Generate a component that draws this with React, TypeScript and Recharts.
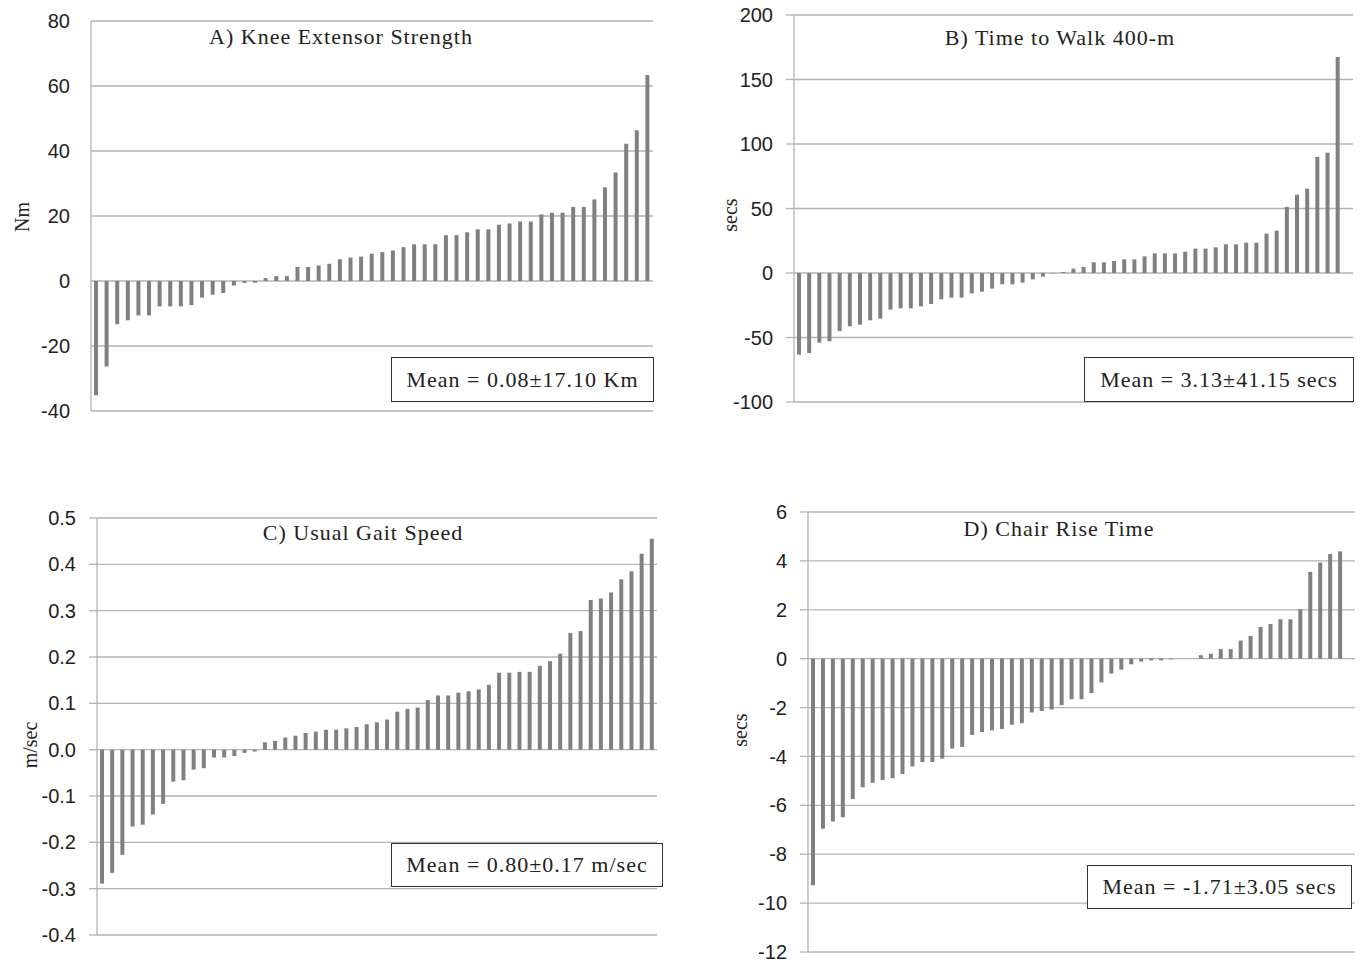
import React from 'react';
import { BarChart, Bar, XAxis, YAxis, CartesianGrid } from 'recharts';

// sorted change scores per subject
const kneeValues = [
  -35.2, -26.3, -13.3, -12.1, -10.6, -10.6, -7.8, -7.8, -7.8, -7.4, -5.1, -4.2, -3.7, -1.4, -0.6, -0.5,
  0.9, 1.5, 1.5, 4.3, 4.3, 4.8, 5.3, 6.7, 7.2, 7.5, 8.4, 8.9, 9.4, 10.4, 11.3, 11.3, 11.3, 14.1, 14.1,
  15.0, 15.9, 15.9, 17.3, 17.7, 18.3, 18.3, 20.5, 21.0, 21.0, 22.8, 22.8, 25.1, 28.8, 33.4, 42.2, 46.4, 63.4,
];
const walkValues = [
  -63.3, -62, -54, -53, -45, -41.3, -40, -36.7, -35.4, -28.4, -27.4, -27.4, -25.8, -24, -20.4, -19.1,
  -19.1, -15.8, -14.5, -12.1, -8.8, -8.8, -7.5, -4.9, -2.8, -0.3, 0.8, 3.4, 4.7, 8.3, 8.3, 9.3, 10.6,
  10.6, 12.9, 15.2, 15.2, 15.2, 16.5, 18.9, 18.9, 19.9, 22.2, 22.2, 23.5, 23.5, 30.5, 32.8, 51.2, 60.7,
  65.4, 90, 93.3, 167.4, null,
];
const gaitValues = [
  -0.289, -0.266, -0.227, -0.166, -0.162, -0.14, -0.117, -0.069, -0.066, -0.043, -0.04, -0.017, -0.017,
  -0.014, -0.007, -0.004, 0.016, 0.019, 0.026, 0.03, 0.036, 0.039, 0.043, 0.043, 0.046, 0.049, 0.055,
  0.059, 0.065, 0.082, 0.088, 0.091, 0.107, 0.117, 0.117, 0.123, 0.126, 0.13, 0.14, 0.166, 0.166, 0.168,
  0.168, 0.181, 0.191, 0.207, 0.252, 0.256, 0.323, 0.326, 0.339, 0.368, 0.385, 0.423, 0.455,
];
const chairValues = [
  -9.27, -6.96, -6.66, -6.49, -5.74, -5.26, -5.08, -4.96, -4.89, -4.72, -4.41, -4.23, -4.23, -4.09,
  -3.68, -3.61, -3.12, -3.0, -2.93, -2.88, -2.7, -2.64, -2.2, -2.14, -2.08, -1.9, -1.66, -1.66, -1.41,
  -0.97, -0.61, -0.45, -0.23, -0.12, -0.07, -0.07, -0.03, 0, 0, 0.14, 0.2, 0.39, 0.39, 0.74, 0.93, 1.3,
  1.42, 1.61, 1.61, 2.03, 3.55, 3.93, 4.28, 4.39, null,
];

const kneeTicks = [-40, -20, 0, 20, 40, 60, 80];
const walkTicks = [-100, -50, 0, 50, 100, 150, 200];
const gaitTicks = [-0.4, -0.3, -0.2, -0.1, 0, 0.1, 0.2, 0.3, 0.4, 0.5];
const chairTicks = [-12, -10, -8, -6, -4, -2, 0, 2, 4, 6];

const titles = ['A) Knee Extensor Strength', 'B) Time to Walk 400-m', 'C) Usual Gait Speed', 'D) Chair Rise Time'];
const meanLabels = ['Mean = 0.08±17.10 Km', 'Mean = 3.13±41.15 secs', 'Mean = 0.80±0.17 m/sec', 'Mean = -1.71±3.05 secs'];
const unitLabels = ['Nm', 'secs', 'm/sec', 'secs'];

const toRows = (values: (number | null)[]) => values.map((v, i) => ({ id: i + 1, value: v }));

const GRID = '#b3b3b3';
const BAR = '#808080';
const serif = '"Liberation Serif", "Times New Roman", serif';

interface PanelProps {
  values: (number | null)[];
  ticks: number[];
  left: number;
  top: number;
  width: number;
  height: number;
  axisWidth: number;
  margin: { top: number; right: number; bottom: number; left: number };
  tickSize: number;
  decimals?: number;
  title: string;
  titleX: number;
  titleY: number;
  unit: string;
  unitX: number;
  unitY: number;
  box: { x: number; y: number; w: number; h: number };
  mean: string;
}

const Panel: React.FC<PanelProps> = (p) => {
  const data = toRows(p.values);
  return (
    <>
      <div style={{ position: 'absolute', left: p.left, top: p.top }}>
        <BarChart width={p.width} height={p.height} data={data} margin={p.margin} barSize={4}>
          <CartesianGrid vertical={false} stroke={GRID} strokeWidth={1.3} />
          <XAxis dataKey="id" hide />
          <YAxis
            type="number"
            domain={[p.ticks[0], p.ticks[p.ticks.length - 1]]}
            ticks={p.ticks}
            interval={0}
            width={p.axisWidth}
            axisLine={{ stroke: GRID, strokeWidth: 1.3 }}
            tickLine={p.tickSize > 0 ? { stroke: GRID, strokeWidth: 1.3 } : false}
            tickSize={p.tickSize}
            tickMargin={21 - p.tickSize}
            tickFormatter={(v: number) => (p.decimals ? v.toFixed(p.decimals) : String(v))}
            tick={{ fill: '#222', fontSize: 20, fontFamily: '"Liberation Sans", Arial, sans-serif' }}
          />
          <Bar dataKey="value" fill={BAR} isAnimationActive={false} />
        </BarChart>
      </div>
      <div
        style={{
          position: 'absolute', left: p.titleX - 200, top: p.titleY - 14, width: 400, textAlign: 'center',
          fontFamily: serif, fontSize: 22, letterSpacing: 1, color: '#222', lineHeight: '28px',
        }}
      >
        {p.title}
      </div>
      <div
        style={{
          position: 'absolute', left: p.unitX - 40, top: p.unitY - 12, width: 80, height: 24, textAlign: 'center',
          fontFamily: serif, fontSize: 20, color: '#222', lineHeight: '24px', transform: 'rotate(-90deg)',
        }}
      >
        {p.unit}
      </div>
      <div
        style={{
          position: 'absolute', left: p.box.x, top: p.box.y, width: p.box.w, height: p.box.h,
          boxSizing: 'border-box', border: '1.5px solid #333', background: '#fff', display: 'flex',
          alignItems: 'center', justifyContent: 'center', fontFamily: serif, fontSize: 22,
          letterSpacing: 1, color: '#222',
        }}
      >
        {p.mean}
      </div>
    </>
  );
};

export default function App() {
  return (
    <div style={{ position: 'absolute', left: 0, top: 0, width: 1361, height: 965, background: '#fff' }}>
      <Panel
        values={kneeValues} ticks={kneeTicks} left={0} top={0} width={680} height={430} axisWidth={91}
        margin={{ top: 21, right: 27, bottom: 19, left: 0 }} tickSize={0}
        title={titles[0]} titleX={341} titleY={37} unit={unitLabels[0]} unitX={22} unitY={217}
        box={{ x: 391, y: 357, w: 263, h: 45 }} mean={meanLabels[0]}
      />
      <Panel
        values={walkValues} ticks={walkTicks} left={700} top={0} width={661} height={430} axisWidth={94}
        margin={{ top: 15, right: 8, bottom: 28, left: 0 }} tickSize={8}
        title={titles[1]} titleX={1060} titleY={38} unit={unitLabels[1]} unitX={730} unitY={215}
        box={{ x: 1084, y: 357, w: 270, h: 45 }} mean={meanLabels[1]}
      />
      <Panel
        values={gaitValues} ticks={gaitTicks} left={0} top={480} width={680} height={480} axisWidth={97}
        margin={{ top: 38, right: 23, bottom: 25, left: 0 }} tickSize={8} decimals={1}
        title={titles[2]} titleX={363} titleY={533} unit={unitLabels[2]} unitX={30} unitY={745}
        box={{ x: 391, y: 843, w: 272, h: 44 }} mean={meanLabels[2]}
      />
      <Panel
        values={chairValues} ticks={chairTicks} left={700} top={480} width={661} height={485} axisWidth={108}
        margin={{ top: 32, right: 6, bottom: 13, left: 0 }} tickSize={8}
        title={titles[3]} titleX={1059} titleY={529} unit={unitLabels[3]} unitX={740} unitY={730}
        box={{ x: 1087, y: 865, w: 265, h: 44 }} mean={meanLabels[3]}
      />
    </div>
  );
}
